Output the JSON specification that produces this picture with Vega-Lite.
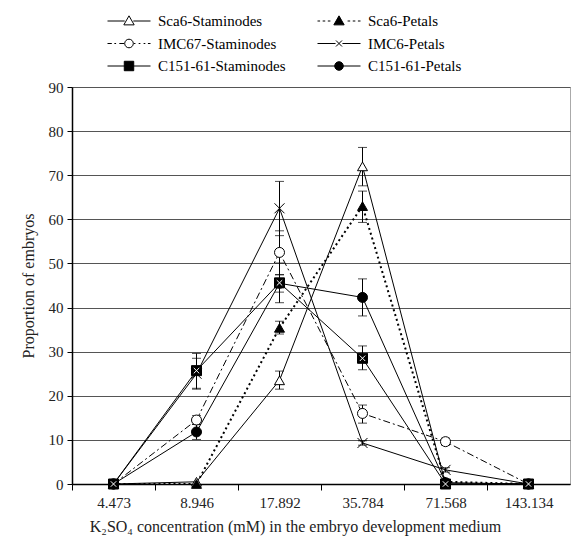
{
  "$schema": "https://vega.github.io/schema/vega-lite/v6.json",
  "width": 498,
  "height": 397,
  "autosize": "none",
  "padding": {"left": 72, "top": 87, "right": 1, "bottom": 59},
  "background": "white",
  "config": {
    "font": "Liberation Serif",
    "view": {"stroke": "#aaa", "strokeWidth": 1},
    "style": {"guide-label": {"font": "Liberation Serif", "fontSize": 15}, "guide-title": {"font": "Liberation Serif"}},
    "axis": {"labelFont": "Liberation Serif", "titleFont": "Liberation Serif", "labelFontSize": 15, "titleFontSize": 16, "titleFontWeight": "normal", "labelColor": "#222", "titleColor": "#222", "domainColor": "black", "tickColor": "black"},
    "legend": {"labelFont": "Liberation Serif"}
  },
  "data": {
    "values": [
      {"conc": 4.473, "series": "Sca6-Staminodes", "value": 0, "lo": 0, "hi": 0},
      {"conc": 8.946, "series": "Sca6-Staminodes", "value": 0.5, "lo": 0.5, "hi": 0.5},
      {"conc": 17.892, "series": "Sca6-Staminodes", "value": 23.5, "lo": 21.5, "hi": 25.6},
      {"conc": 35.784, "series": "Sca6-Staminodes", "value": 72, "lo": 67.6, "hi": 76.3},
      {"conc": 71.568, "series": "Sca6-Staminodes", "value": 0, "lo": 0, "hi": 0},
      {"conc": 143.134, "series": "Sca6-Staminodes", "value": 0, "lo": 0, "hi": 0},
      {"conc": 4.473, "series": "Sca6-Petals", "value": 0, "lo": 0, "hi": 0},
      {"conc": 8.946, "series": "Sca6-Petals", "value": 0, "lo": 0, "hi": 0},
      {"conc": 17.892, "series": "Sca6-Petals", "value": 35.4, "lo": 34.0, "hi": 36.9},
      {"conc": 35.784, "series": "Sca6-Petals", "value": 63, "lo": 59.3, "hi": 66.4},
      {"conc": 71.568, "series": "Sca6-Petals", "value": 0.5, "lo": 0.5, "hi": 0.5},
      {"conc": 143.134, "series": "Sca6-Petals", "value": 0, "lo": 0, "hi": 0},
      {"conc": 4.473, "series": "IMC67-Staminodes", "value": 0, "lo": 0, "hi": 0},
      {"conc": 8.946, "series": "IMC67-Staminodes", "value": 14.5, "lo": 13.5, "hi": 15.5},
      {"conc": 17.892, "series": "IMC67-Staminodes", "value": 52.5, "lo": 47.5, "hi": 57.4},
      {"conc": 35.784, "series": "IMC67-Staminodes", "value": 16, "lo": 13.8, "hi": 17.9},
      {"conc": 71.568, "series": "IMC67-Staminodes", "value": 9.6, "lo": 8.8, "hi": 10.4},
      {"conc": 143.134, "series": "IMC67-Staminodes", "value": 0, "lo": 0, "hi": 0},
      {"conc": 4.473, "series": "IMC6-Petals", "value": 0, "lo": 0, "hi": 0},
      {"conc": 8.946, "series": "IMC6-Petals", "value": 25, "lo": 21.5, "hi": 28.5},
      {"conc": 17.892, "series": "IMC6-Petals", "value": 62.5, "lo": 56.3, "hi": 68.6},
      {"conc": 35.784, "series": "IMC6-Petals", "value": 9.3, "lo": 8.8, "hi": 9.8},
      {"conc": 71.568, "series": "IMC6-Petals", "value": 3.2, "lo": 2.7, "hi": 3.7},
      {"conc": 143.134, "series": "IMC6-Petals", "value": 0, "lo": 0, "hi": 0},
      {"conc": 4.473, "series": "C151-61-Staminodes", "value": 0, "lo": 0, "hi": 0},
      {"conc": 8.946, "series": "C151-61-Staminodes", "value": 25.7, "lo": 21.7, "hi": 29.6},
      {"conc": 17.892, "series": "C151-61-Staminodes", "value": 45.6, "lo": 41.1, "hi": 50.1},
      {"conc": 35.784, "series": "C151-61-Staminodes", "value": 28.5, "lo": 25.9, "hi": 31.3},
      {"conc": 71.568, "series": "C151-61-Staminodes", "value": 0, "lo": 0, "hi": 0},
      {"conc": 143.134, "series": "C151-61-Staminodes", "value": 0, "lo": 0, "hi": 0},
      {"conc": 4.473, "series": "C151-61-Petals", "value": 0, "lo": 0, "hi": 0},
      {"conc": 8.946, "series": "C151-61-Petals", "value": 11.8, "lo": 10.1, "hi": 13.5},
      {"conc": 17.892, "series": "C151-61-Petals", "value": 45.5, "lo": 43.5, "hi": 47.4},
      {"conc": 35.784, "series": "C151-61-Petals", "value": 42.3, "lo": 38.1, "hi": 46.5},
      {"conc": 71.568, "series": "C151-61-Petals", "value": 0.3, "lo": 0.3, "hi": 0.3},
      {"conc": 143.134, "series": "C151-61-Petals", "value": 0, "lo": 0, "hi": 0}
    ]
  },
  "encoding": {
    "x": {
      "field": "conc", "type": "ordinal",
      "scale": {"type": "point", "padding": 0.5, "domain": [4.473, 8.946, 17.892, 35.784, 71.568, 143.134]},
      "axis": {"title": "K₂SO₄ concentration (mM) in the embryo development medium", "labelFont": "Liberation Serif", "titleFont": "Liberation Serif", "labelFontSize": 15, "labelAngle": 0, "tickOffset": -41.5, "labelOffset": 41.5, "tickSize": 6, "labelPadding": 5, "titlePadding": 8, "titleX": 223, "grid": false, "domainWidth": 1.5}
    }
  },
  "layer": [
    {
      "transform": [{"filter": "datum.series !== 'Sca6-Petals' && datum.series !== 'IMC67-Staminodes'"}],
      "mark": {"type": "line", "color": "black", "strokeWidth": 1},
      "encoding": {
        "y": {"field": "value", "type": "quantitative", "scale": {"domain": [0, 90], "nice": false}, "axis": {"title": "Proportion of embryos", "labelFont": "Liberation Serif", "titleFont": "Liberation Serif", "labelFontSize": 15, "values": [0, 10, 20, 30, 40, 50, 60, 70, 80, 90], "grid": true, "gridColor": "#555", "gridWidth": 1, "tickSize": 5, "labelPadding": 4, "titlePadding": 12, "domainWidth": 1.5}},
        "detail": {"field": "series", "type": "nominal"}
      }
    },
    {
      "transform": [{"filter": "datum.series === 'Sca6-Petals'"}],
      "mark": {"type": "line", "color": "black", "strokeWidth": 2, "strokeDash": [2, 3]},
      "encoding": {"y": {"field": "value", "type": "quantitative"}}
    },
    {
      "transform": [{"filter": "datum.series === 'IMC67-Staminodes'"}],
      "mark": {"type": "line", "color": "black", "strokeWidth": 1, "strokeDash": [7, 3, 2, 3]},
      "encoding": {"y": {"field": "value", "type": "quantitative"}}
    },
    {
      "transform": [{"filter": "datum.hi > datum.lo"}],
      "mark": {"type": "rule", "color": "black", "strokeWidth": 1},
      "encoding": {"y": {"field": "lo", "type": "quantitative"}, "y2": {"field": "hi"}}
    },
    {
      "transform": [{"filter": "datum.hi > datum.lo"}],
      "mark": {"type": "tick", "color": "black", "size": 9, "thickness": 1},
      "encoding": {"y": {"field": "lo", "type": "quantitative"}}
    },
    {
      "transform": [{"filter": "datum.hi > datum.lo"}],
      "mark": {"type": "tick", "color": "black", "size": 9, "thickness": 1},
      "encoding": {"y": {"field": "hi", "type": "quantitative"}}
    },
    {
      "mark": {"type": "point", "filled": false, "stroke": "black", "strokeWidth": 1, "size": 100},
      "encoding": {
        "y": {"field": "value", "type": "quantitative"},
        "shape": {
          "field": "series", "type": "nominal", "legend": null,
          "scale": {"domain": ["C151-61-Petals", "C151-61-Staminodes", "IMC6-Petals", "IMC67-Staminodes", "Sca6-Petals", "Sca6-Staminodes"], "range": ["circle", "square", "M-1,-1L1,1M-1,1L1,-1", "circle", "triangle-up", "triangle-up"]}
        },
        "fill": {"field": "series", "type": "nominal", "legend": null, "scale": {"domain": ["C151-61-Petals", "C151-61-Staminodes", "IMC6-Petals", "IMC67-Staminodes", "Sca6-Petals", "Sca6-Staminodes"], "range": ["black", "black", "white", "white", "black", "white"]}},
        "opacity": {
          "field": "series", "type": "nominal",
          "scale": {"domain": ["Sca6-Staminodes", "Sca6-Petals", "IMC67-Staminodes", "IMC6-Petals", "C151-61-Staminodes", "C151-61-Petals"], "range": [1, 1, 1, 1, 1, 1]},
          "legend": {
            "title": null, "orient": "none", "legendX": 35, "legendY": -74, "columns": 2, "direction": "horizontal",
            "columnPadding": 31, "rowPadding": 6.5, "symbolSize": 1849, "clipHeight": 16, "labelOffset": 7,
            "labelFont": "Liberation Serif", "labelFontSize": 15, "labelColor": "black", "labelLimit": 300,
            "symbolStrokeColor": "black", "symbolStrokeWidth": 1, "symbolOpacity": 1,
            "symbolType": {"expr": "datum.value === 'Sca6-Staminodes' ? 'M-1,0H-0.2M0.2,0H1M0,-0.24L0.24,0.18L-0.24,0.18Z' : datum.value === 'Sca6-Petals' ? 'M-1,0H-0.88M-0.76,0H-0.64M-0.52,0H-0.4M0.4,0H0.52M0.64,0H0.76M0.88,0H1M0,-0.24L0.24,0.18L-0.24,0.18Z' : datum.value === 'IMC67-Staminodes' ? 'M-1,0H-0.8M-0.68,0H-0.6M-0.45,0H-0.22M0.22,0H0.3M0.45,0H0.53M0.68,0H0.76M0.88,0H1M-0.2,0A0.2,0.2,0,1,0,0.2,0A0.2,0.2,0,1,0,-0.2,0Z' : datum.value === 'IMC6-Petals' ? 'M-1,0H-0.16M0.16,0H1M-0.14,-0.14L0.14,0.14M-0.14,0.14L0.14,-0.14' : datum.value === 'C151-61-Staminodes' ? 'M-1,0H1M-0.22,-0.22H0.22V0.22H-0.22Z' : 'M-1,0H1M-0.2,0A0.2,0.2,0,1,0,0.2,0A0.2,0.2,0,1,0,-0.2,0Z'"},
            "symbolFillColor": {"expr": "indexof(['Sca6-Staminodes','IMC67-Staminodes','IMC6-Petals'], datum.value) >= 0 ? 'white' : 'black'"}
          }
        }
      }
    },
    {
      "transform": [{"filter": "datum.series === 'C151-61-Staminodes'"}],
      "mark": {"type": "point", "shape": "M-1,-1L1,1M-1,1L1,-1", "stroke": "white", "strokeWidth": 1, "size": 30, "opacity": 1, "filled": false},
      "encoding": {"y": {"field": "value", "type": "quantitative"}}
    }
  ]
}
